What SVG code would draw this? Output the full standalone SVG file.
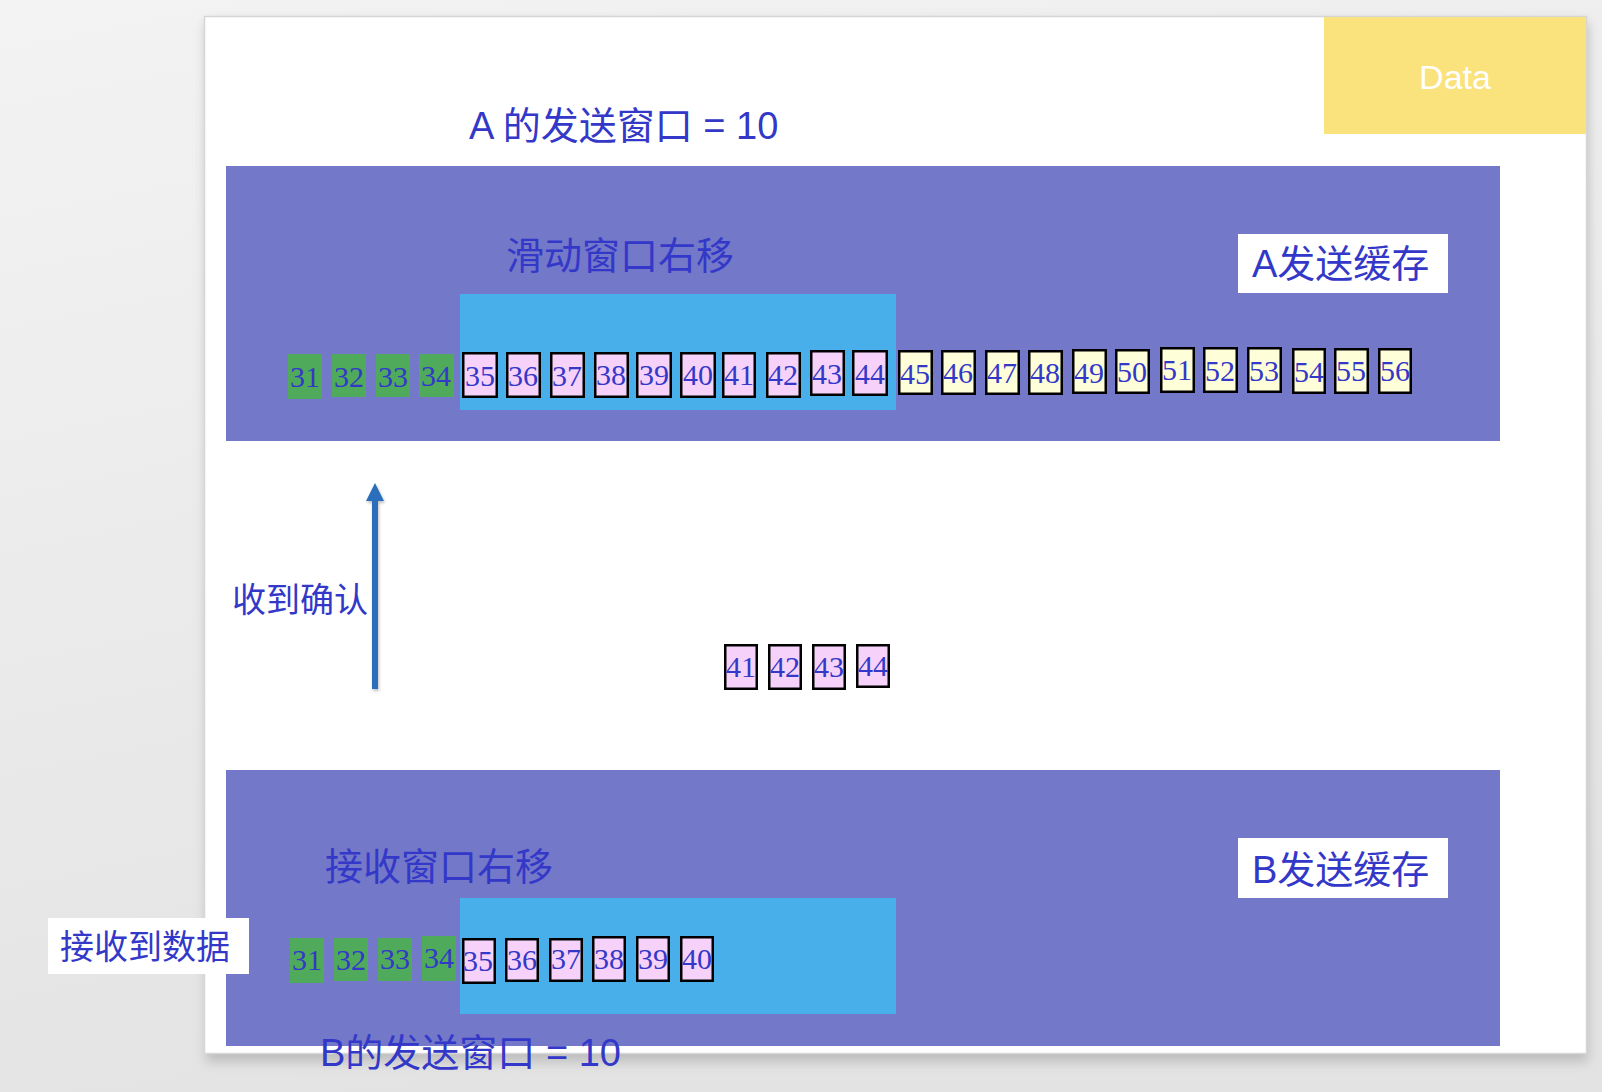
<svg xmlns="http://www.w3.org/2000/svg" width="1602" height="1092" viewBox="0 0 1602 1092">
<defs>
<linearGradient id="bg" x1="0" y1="0" x2="0.3" y2="1">
<stop offset="0" stop-color="#f3f3f3"/>
<stop offset="1" stop-color="#e3e3e3"/>
</linearGradient>
<filter id="shadow" x="-5%" y="-5%" width="110%" height="110%">
<feGaussianBlur stdDeviation="6"/>
</filter>
<filter id="arrowShadow" filterUnits="userSpaceOnUse" x="350" y="470" width="50" height="240">
<feDropShadow dx="1" dy="2" stdDeviation="1.5" flood-color="#000" flood-opacity="0.25"/>
</filter>
<marker id="arrowHead" markerUnits="userSpaceOnUse" markerWidth="20" markerHeight="20" refX="0" refY="9" orient="auto">
<path d="M0,0 L18,9 L0,18 Z" fill="#2a6ebc"/>
</marker>
<style>
.cjk{font-family:'Liberation Sans','Noto Sans CJK SC',sans-serif;fill:#3338c8;}
.num{font-family:'Liberation Serif','Times New Roman',serif;font-size:30px;fill:#3338c8;text-anchor:middle;}
.green{fill:#4faa5b;}
.pink{fill:#f6d2fa;stroke:#000;stroke-width:2.5;}
.yellow{fill:#fefed8;stroke:#000;stroke-width:2.5;}
.buf{fill:#7378c9;}
.win{fill:#48afea;}
.lbl{fill:#ffffff;}
</style>
</defs>
<rect x="0" y="0" width="1602" height="1092" fill="url(#bg)"/>
<rect x="206" y="22" width="1382" height="1040" fill="#bdbdbd" filter="url(#shadow)"/>
<rect x="204.5" y="16.5" width="1382" height="1037" fill="#ffffff" stroke="#d6d6d6" stroke-width="1.5"/>

<g id="data-tag">
<rect x="1324" y="17" width="262" height="117" fill="#fae27d"/>
<text x="1455" y="89" font-family="'Liberation Sans',Arial,sans-serif" font-size="34" fill="#ffffff" text-anchor="middle">Data</text>
</g>

<g id="title-a">
<text class="cjk" x="469" y="139" font-size="38">A 的发送窗口 = 10</text>
</g>

<g id="a-buffer">
<rect class="buf" x="226" y="166" width="1274" height="275"/>
<text class="cjk" x="506" y="269" font-size="38">滑动窗口右移</text>
<rect class="lbl" x="1238" y="234" width="210" height="59"/>
<text class="cjk" x="1252" y="277" font-size="38">A发送缓存</text>
<rect class="win" x="460" y="294" width="436" height="116"/>
</g>

<g id="a-segments">
<rect class="green" x="288" y="354" width="34" height="45"/><text class="num" x="305" y="387">31</text>
<rect class="green" x="332" y="354" width="34" height="43"/><text class="num" x="349" y="387">32</text>
<rect class="green" x="376" y="354" width="34" height="43"/><text class="num" x="393" y="387">33</text>
<rect class="green" x="419" y="354" width="35" height="43"/><text class="num" x="436" y="386">34</text>
<rect class="pink" x="463.25" y="353.25" width="33.5" height="43.5"/><text class="num" x="480" y="386">35</text>
<rect class="pink" x="507.25" y="353.25" width="32.5" height="43.5"/><text class="num" x="523" y="386">36</text>
<rect class="pink" x="551.25" y="353.25" width="32.5" height="43.5"/><text class="num" x="567" y="386">37</text>
<rect class="pink" x="595.25" y="353.25" width="32.5" height="43.5"/><text class="num" x="611" y="385">38</text>
<rect class="pink" x="637.25" y="353.25" width="33.5" height="43.5"/><text class="num" x="654" y="385">39</text>
<rect class="pink" x="681.25" y="353.25" width="33.5" height="43.5"/><text class="num" x="698" y="385">40</text>
<rect class="pink" x="723.25" y="353.25" width="31.5" height="43.5"/><text class="num" x="739" y="385">41</text>
<rect class="pink" x="767.25" y="353.25" width="32.5" height="43.5"/><text class="num" x="783" y="385">42</text>
<rect class="pink" x="811.25" y="351.25" width="32.5" height="43.5"/><text class="num" x="827" y="384">43</text>
<rect class="pink" x="853.25" y="351.25" width="33.5" height="43.5"/><text class="num" x="870" y="384">44</text>
<rect class="yellow" x="899.25" y="351.25" width="32.5" height="42.5"/><text class="num" x="915" y="384">45</text>
<rect class="yellow" x="942.25" y="351.25" width="32.5" height="42.5"/><text class="num" x="958" y="383">46</text>
<rect class="yellow" x="986.25" y="351.25" width="32.5" height="42.5"/><text class="num" x="1002" y="383">47</text>
<rect class="yellow" x="1029.25" y="351.25" width="32.5" height="42.5"/><text class="num" x="1045" y="383">48</text>
<rect class="yellow" x="1073.25" y="350.25" width="32.5" height="42.5"/><text class="num" x="1089" y="383">49</text>
<rect class="yellow" x="1116.25" y="350.25" width="32.5" height="42.5"/><text class="num" x="1132" y="382">50</text>
<rect class="yellow" x="1161.25" y="348.25" width="32.5" height="43.5"/><text class="num" x="1177" y="380">51</text>
<rect class="yellow" x="1204.25" y="348.25" width="32.5" height="43.5"/><text class="num" x="1220" y="381">52</text>
<rect class="yellow" x="1248.25" y="348.25" width="32.5" height="43.5"/><text class="num" x="1264" y="381">53</text>
<rect class="yellow" x="1293.25" y="349.25" width="31.5" height="43.5"/><text class="num" x="1309" y="382">54</text>
<rect class="yellow" x="1335.25" y="349.25" width="32.5" height="43.5"/><text class="num" x="1351" y="381">55</text>
<rect class="yellow" x="1379.25" y="349.25" width="31.5" height="43.5"/><text class="num" x="1395" y="381">56</text>
</g>

<g id="ack-label">
<text class="cjk" x="232" y="612" font-size="34">收到确认</text>
</g>

<g id="in-flight">
<rect class="pink" x="725.25" y="645.25" width="31.5" height="43.5"/><text class="num" x="741" y="677">41</text>
<rect class="pink" x="769.25" y="645.25" width="31.5" height="43.5"/><text class="num" x="785" y="677">42</text>
<rect class="pink" x="813.25" y="645.25" width="31.5" height="43.5"/><text class="num" x="829" y="677">43</text>
<rect class="pink" x="857.25" y="645.25" width="31.5" height="41.5"/><text class="num" x="873" y="676">44</text>
</g>

<g id="b-buffer">
<rect class="buf" x="226" y="770" width="1274" height="276"/>
<text class="cjk" x="325" y="880" font-size="38">接收窗口右移</text>
<rect class="lbl" x="1238" y="838" width="210" height="60"/>
<text class="cjk" x="1252" y="883" font-size="38">B发送缓存</text>
<rect class="win" x="460" y="898" width="436" height="116"/>
</g>

<g id="b-segments">
<rect class="green" x="290" y="938" width="34" height="45"/><text class="num" x="307" y="970">31</text>
<rect class="green" x="334" y="938" width="34" height="43"/><text class="num" x="351" y="970">32</text>
<rect class="green" x="378" y="938" width="34" height="43"/><text class="num" x="395" y="969">33</text>
<rect class="green" x="422" y="936" width="34" height="45"/><text class="num" x="439" y="968">34</text>
<rect class="pink" x="463.25" y="939.25" width="31.5" height="43.5"/><text class="num" x="478" y="971">35</text>
<rect class="pink" x="506.25" y="939.25" width="31.5" height="41.5"/><text class="num" x="522" y="970">36</text>
<rect class="pink" x="550.25" y="939.25" width="31.5" height="41.5"/><text class="num" x="566" y="969">37</text>
<rect class="pink" x="593.25" y="937.25" width="31.5" height="43.5"/><text class="num" x="609" y="969">38</text>
<rect class="pink" x="637.25" y="937.25" width="31.5" height="43.5"/><text class="num" x="653" y="969">39</text>
<rect class="pink" x="681.25" y="937.25" width="31.5" height="43.5"/><text class="num" x="697" y="969">40</text>
</g>

<g id="recv-label">
<rect class="lbl" x="48" y="918" width="201" height="56"/>
<text class="cjk" x="60" y="959" font-size="34">接收到数据</text>
</g>

<g id="title-b">
<text class="cjk" x="320" y="1066" font-size="38">B的发送窗口 = 10</text>
</g>

<g id="connectors">
<line x1="375" y1="689" x2="375" y2="501" stroke="#2a6ebc" stroke-width="6" marker-end="url(#arrowHead)" filter="url(#arrowShadow)"/>
</g>
</svg>
